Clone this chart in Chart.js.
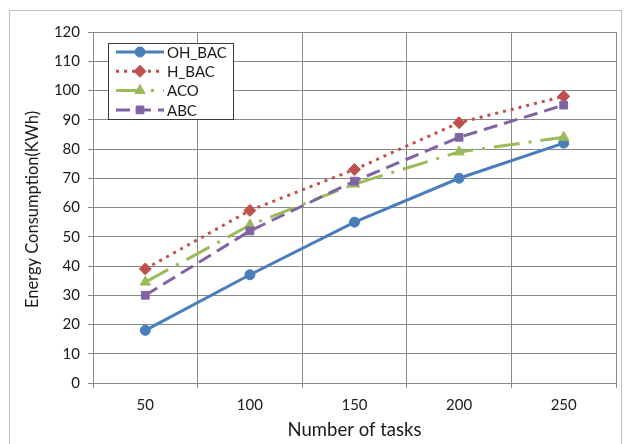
<!DOCTYPE html>
<html>
<head>
<meta charset="utf-8">
<script src="https://cdn.jsdelivr.net/npm/chart.js@4.4.1/dist/chart.umd.min.js"></script>
<style>
  html, body { margin: 0; padding: 0; background: #fff; }
  #wrap { width: 627px; height: 444px; position: relative; }
</style>
</head>
<body>
<div id="wrap"><canvas id="grafiks" width="627" height="444"></canvas></div>
<script>
// data
const kategorijas = ["50", "100", "150", "200", "250"];
const ohBac = [18, 37, 55, 70, 82];
const hBac = [39, 59, 73, 89, 98];
const aco = [34.5, 54, 68, 79, 84];
const abc = [30, 52, 69, 84, 95];
const serijuNosaukumi = ["OH_BAC", "H_BAC", "ACO", "ABC"];
const yNosaukums = "Energy Consumption(KWh)";

const fonts = "Lato, 'Open Sans', sans-serif";
const gridKrasa = "#8a8a8a";

// outer frame around the whole chart + y axis title
const ramis = {
    id: "ramis",
    beforeDraw(chart) {
        const ctx = chart.ctx;
        ctx.save();
        ctx.fillStyle = "#fff";
        ctx.fillRect(0, 0, chart.width, chart.height);
        ctx.strokeStyle = "#bdbdbd";
        ctx.lineWidth = 1;
        ctx.strokeRect(9.5, 10.5, 612, 445);
        ctx.restore();
    },
    afterDraw(chart) {
        const ctx = chart.ctx;
        const a = chart.chartArea;
        ctx.save();
        ctx.translate(33, (a.top + a.bottom) / 2 + 2);
        ctx.rotate(-Math.PI / 2);
        ctx.fillStyle = "#1a1a1a";
        ctx.font = "16.5px " + fonts;
        ctx.textAlign = "center";
        ctx.textBaseline = "middle";
        ctx.fillText(yNosaukums, 0, 0);
        ctx.restore();
    }
};

// legend drawn by hand so the samples show line + marker like the original
const legenda = {
    id: "legenda",
    afterDraw(chart) {
        const ctx = chart.ctx;
        const o = { x: 108, y: 43, w: 125, h: 76, rinda0: 9, solis: 19.3 };
        ctx.save();
        ctx.fillStyle = "#fff";
        ctx.fillRect(o.x, o.y, o.w, o.h);
        ctx.strokeStyle = "#3a3a3a";
        ctx.lineWidth = 1;
        ctx.strokeRect(o.x + 0.5, o.y + 0.5, o.w, o.h);
        chart.data.datasets.forEach((ds, i) => {
            const y = o.y + o.rinda0 + i * o.solis;
            const x0 = o.x + 8;
            const x1 = o.x + 56;
            ctx.save();
            ctx.strokeStyle = ds.borderColor;
            ctx.lineWidth = ds.borderWidth;
            ctx.setLineDash(ds.borderDash);
            ctx.beginPath();
            ctx.moveTo(x0, y);
            ctx.lineTo(x1, y);
            ctx.stroke();
            ctx.setLineDash([]);
            ctx.fillStyle = ds.pointBackgroundColor;
            ctx.strokeStyle = ds.pointBorderColor;
            ctx.lineWidth = 1;
            Chart.helpers.drawPoint(ctx, { pointStyle: ds.pointStyle, radius: ds.pointRadius, borderWidth: 1, rotation: 0 }, (x0 + x1) / 2, y);
            ctx.restore();
            ctx.fillStyle = "#1a1a1a";
            ctx.font = "15px " + fonts;
            ctx.textBaseline = "middle";
            ctx.textAlign = "left";
            ctx.fillText(ds.label, o.x + 59, y + 1);
        });
        ctx.restore();
    }
};

function serija(nosaukums, dati, krasa, dash, punkts, radiuss, seciba) {
    return {
        label: nosaukums,
        data: dati,
        borderColor: krasa,
        backgroundColor: krasa,
        borderWidth: 3,
        borderDash: dash,
        pointStyle: punkts,
        pointRadius: radiuss,
        pointHoverRadius: radiuss,
        pointBackgroundColor: krasa,
        pointBorderColor: krasa,
        pointBorderWidth: 1,
        fill: false,
        tension: 0,
        order: seciba
    };
}

const datasets = [
    serija(serijuNosaukumi[0], ohBac, "#4a7ebb", [], "circle", 5, 4),
    serija(serijuNosaukumi[1], hBac, "#c0504d", [3, 5], "rectRot", 6, 3),
    serija(serijuNosaukumi[2], aco, "#9bbb59", [26, 9, 3, 9], "triangle", 6, 2),
    serija(serijuNosaukumi[3], abc, "#8064a2", [14, 7], "rect", 5.5, 1)
];

new Chart(document.getElementById("grafiks"), {
    type: "line",
    data: { labels: kategorijas, datasets: datasets },
    plugins: [ramis, legenda],
    options: {
        responsive: false,
        animation: false,
        layout: { padding: { left: 10, top: 32, right: 11, bottom: 3 } },
        plugins: {
            legend: { display: false },
            tooltip: { enabled: false }
        },
        scales: {
            x: {
                offset: true,
                grid: { offset: true, color: gridKrasa, tickLength: 5, lineWidth: 1 },
                border: { color: gridKrasa },
                ticks: { color: "#1a1a1a", font: { family: fonts, size: 15 }, padding: 8, maxRotation: 0 },
                title: { display: true, text: "Number of tasks", color: "#1a1a1a", font: { family: fonts, size: 18.5 }, padding: 0 },
                afterFit(scale) { scale.height = 58; }
            },
            y: {
                min: 0,
                max: 120,
                ticks: { stepSize: 10, color: "#1a1a1a", font: { family: fonts, size: 15 }, padding: 8 },
                grid: { color: gridKrasa, tickLength: 5, lineWidth: 1 },
                border: { color: gridKrasa },
                afterFit(scale) { scale.width = 83; }
            }
        }
    }
});
</script>
</body>
</html>
